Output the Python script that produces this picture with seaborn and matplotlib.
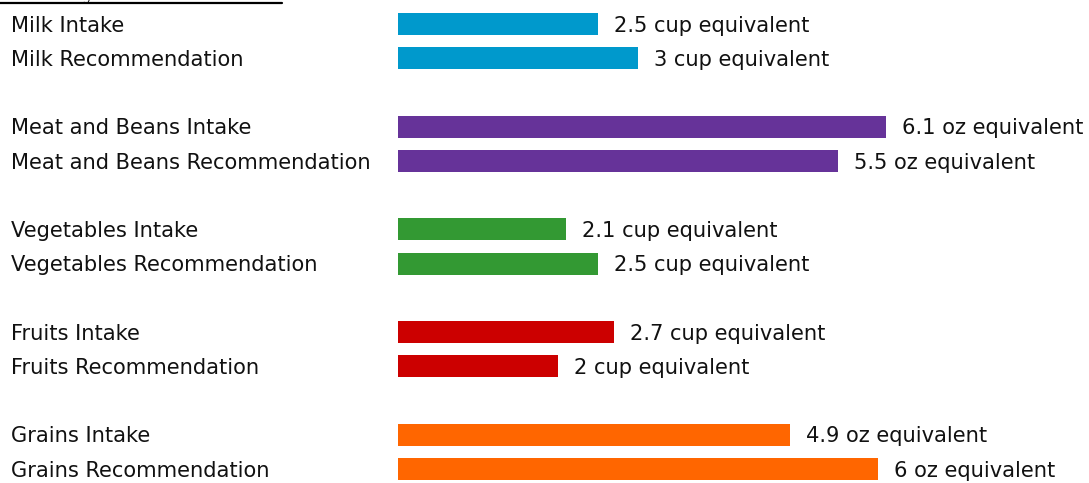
import matplotlib
matplotlib.use("Agg")
import matplotlib.pyplot as plt
import matplotlib.transforms as mtransforms
import seaborn as sns
import pandas as pd

# Food group summary: daily intake versus recommendation
labels = [
    "Milk Intake", "Milk Recommendation",
    "Meat and Beans Intake", "Meat and Beans Recommendation",
    "Vegetables Intake", "Vegetables Recommendation",
    "Fruits Intake", "Fruits Recommendation",
    "Grains Intake", "Grains Recommendation",
]
groups = ["Milk", "Milk", "Meat and Beans", "Meat and Beans",
          "Vegetables", "Vegetables", "Fruits", "Fruits",
          "Grains", "Grains"]
values = [2.5, 3, 6.1, 5.5, 2.1, 2.5, 2.7, 2, 4.9, 6]
units = ["cup", "cup", "oz", "oz", "cup", "cup", "cup", "cup", "oz", "oz"]
group_colors = {
    "Milk": "#0099CC",
    "Meat and Beans": "#663399",
    "Vegetables": "#339933",
    "Fruits": "#CC0000",
    "Grains": "#FF6600",
}

# two rows per group, one empty row between groups
rows = [i + (i // 2) for i in range(len(labels))]

df = pd.DataFrame({"label": labels, "group": groups, "value": values,
                   "unit": units, "row": rows})

sns.set_style("white")
plt.rcParams["font.family"] = ["DejaVu Sans"]

W, H, DPI = 1089, 483, 100
fig = plt.figure(figsize=(W / DPI, H / DPI), dpi=DPI)

left_px = 398
px_per_unit = 80
row_px = (469 - 24) / 13
ax = fig.add_axes([left_px / W, 0, 1 - left_px / W, 1])

sns.barplot(data=df, x="value", y="row", hue="group", palette=group_colors,
            orient="h", native_scale=True, dodge=False, width=0.64,
            saturation=1, linewidth=0, legend=False, ax=ax)

ax.set_xlim(0, (W - left_px) / px_per_unit)
ax.set_ylim((H - 24) / row_px, -24 / row_px)
ax.axis("off")

fs = 21 * 72 / DPI
trans = mtransforms.blended_transform_factory(fig.transFigure, ax.transData)
for lab, val, unit, r in zip(labels, values, units, rows):
    ax.text(11 / W, r + 0.05, lab, transform=trans, ha="left", va="center",
            fontsize=fs, color="#111111")
    ax.annotate(f"{val:g} {unit} equivalent", xy=(val, r + 0.05),
                xytext=(16 * 72 / DPI, 0), textcoords="offset points",
                ha="left", va="center", fontsize=fs, color="#111111")

# underlined heading running off the top edge
fig.text(2 / W, 1 + 1 / H, "Summary", family="Liberation Serif",
         fontsize=24 * 72 / DPI, ha="left", va="baseline", color="black")
fig.add_artist(plt.Line2D([0, 282 / W], [1 - 3 / H, 1 - 3 / H],
                          transform=fig.transFigure, color="black", lw=1.6))

fig.savefig("out.png", dpi=DPI)
